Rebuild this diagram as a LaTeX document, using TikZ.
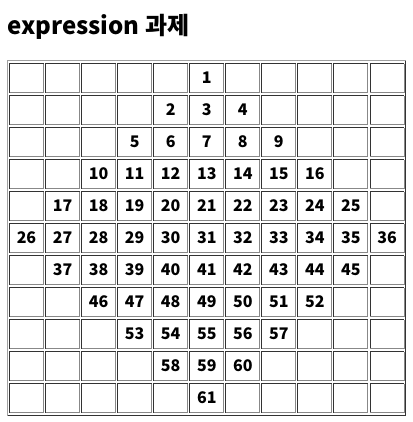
\documentclass[tikz,border=0pt]{standalone}
\usepackage{fontspec}
\setmainfont{Noto Sans CJK KR}
\definecolor{darkline}{HTML}{333333}
\definecolor{lightline}{HTML}{888888}
\definecolor{outerlight}{HTML}{A0A0A0}
\tikzset{
  titletext/.style={anchor=base west, inner sep=0pt, font=\fontsize{18}{20}\selectfont\bfseries},
  numtext/.style={inner sep=0pt, font=\fontsize{12}{14}\selectfont\bfseries},
  darkedge/.style={draw=darkline, line width=0.75pt},
  lightedge/.style={draw=lightline, line width=0.75pt}
}
\begin{document}
\begin{tikzpicture}[x=0.75pt,y=-0.75pt]
\useasboundingbox (0,0) rectangle (412,422);
\fill[white] (0,0) rectangle (412,422);
\node[titletext] (title) at (7,34) {expression 과제};
% outer table border
\coordinate (otl) at (7.5,60.5);
\coordinate (otr) at (405.5,60.5);
\coordinate (obr) at (405.5,415.5);
\coordinate (obl) at (7.5,415.5);
\draw[draw=outerlight, line width=0.75pt] (obl) -- (otl) -- (otr);
\draw[draw=darkline, line width=0.75pt] (otr) -- (obr) -- (obl);
% cells
\foreach \r in {0,...,10} {
  \foreach \c in {0,...,10} {
    \pgfmathsetmacro{\L}{9.5+36.05*\c}
    \pgfmathsetmacro{\T}{63.5+32*\r}
    \pgfmathsetmacro{\R}{\L+34}
    \pgfmathsetmacro{\B}{\T+29}
    \draw[darkedge] (\L,\B) -- (\L,\T) -- (\R,\T);
    \draw[lightedge] (\R,\T) -- (\R,\B) -- (\L,\B);
  }
}
% numbers
\foreach \r/\s/\h in {0/1/0,1/2/1,2/5/2,3/10/3,4/17/4,5/26/5,6/37/4,7/46/3,8/53/2,9/58/1,10/61/0} {
  \pgfmathtruncatemacro{\kmax}{2*\h}
  \foreach \k in {0,...,\kmax} {
    \pgfmathtruncatemacro{\cc}{5-\h+\k}
    \pgfmathtruncatemacro{\n}{\s+\k}
    \pgfmathsetmacro{\X}{9.5+36.05*\cc+17}
    \pgfmathsetmacro{\Y}{63.5+32*\r+14.5}
    \node[numtext] (n\n) at (\X,\Y) {\n};
  }
}
\end{tikzpicture}
\end{document}
